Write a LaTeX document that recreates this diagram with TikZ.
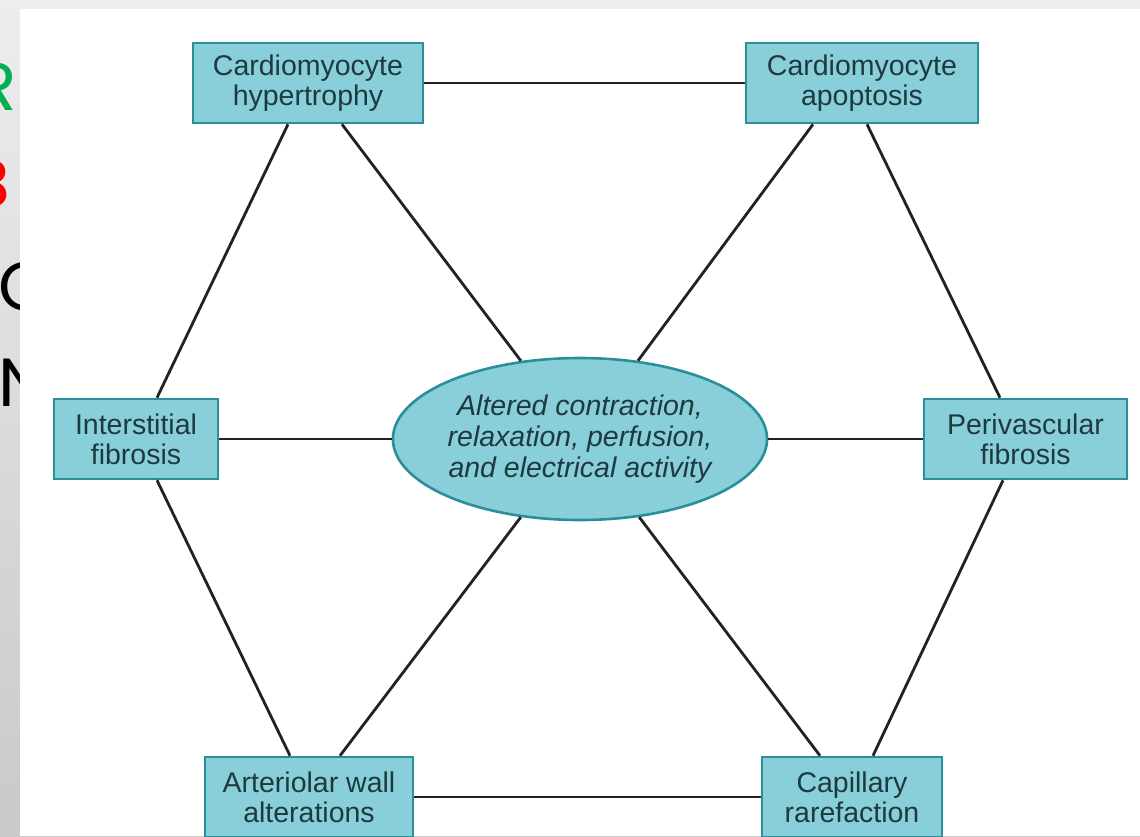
\documentclass[tikz,border=0pt]{standalone}
\usepackage{fontspec}
\setmainfont{Liberation Sans}
\newfontfamily\slidefont{Poppins}
\usetikzlibrary{shapes.geometric, calc}
\definecolor{boxteal}{HTML}{88CFDA}
\definecolor{boxtealdark}{HTML}{2B8E9B}
\definecolor{textdark}{HTML}{1E3A40}
\definecolor{linedark}{HTML}{222222}
\definecolor{slidegreen}{HTML}{00B050}
\definecolor{slidered}{HTML}{FF0000}
\definecolor{slidegraytop}{HTML}{EDEDED}
\definecolor{slidegraybot}{HTML}{C9C9C9}

\begin{document}
\begin{tikzpicture}[x=0.5pt, y=-0.5pt,
    % ── Node styles ──────────────────────────────────────────────────────
    base/.style={
        draw=boxtealdark, fill=boxteal, line width=1.3pt,
        text=textdark, align=center, inner sep=0pt,
        font=\fontsize{14.25}{15}\selectfont,
        minimum height=40pt
    },
    effect/.style={base, rectangle},
    core/.style={
        base, ellipse, minimum width=168pt, minimum height=81pt,
        font=\fontsize{14.25}{15.5}\selectfont\itshape
    },
    slideletter/.style={
        font=\fontsize{34}{34}\selectfont\slidefont, inner sep=0pt
    },
    % ── Connector style ──────────────────────────────────────────────────
    link/.style={draw=linedark, line width=1.4pt}
]
\useasboundingbox (0,0) rectangle (1140,836);

% ═══════════════════════════════════════════════════════════════════════════
% Slide background and cut-off title letters
% ═══════════════════════════════════════════════════════════════════════════
\shade[top color=slidegraytop, bottom color=slidegraybot] (0,0) rectangle (1140,836);
\node[slideletter, text=slidegreen, anchor=base east] (letR) at (17,110) {R};
\node[slideletter, text=slidered, anchor=base east] (letB) at (11,207) {B};
\node[slideletter, anchor=base west] (letC) at (-2,310) {C};
\node[slideletter, anchor=base west] (letN) at (-2,406) {N};
\fill[white] (20,9) rectangle (1140,836);

% ═══════════════════════════════════════════════════════════════════════════
% Centre and the six surrounding changes
% ═══════════════════════════════════════════════════════════════════════════
\node[core] (altered) at (580,439)
    {Altered contraction,\\relaxation, perfusion,\\and electrical activity};

\node[effect, minimum width=115pt] (hypertrophy) at (308,83)
    {Cardiomyocyte\\hypertrophy};
\node[effect, minimum width=116pt] (apoptosis) at (862,83)
    {Cardiomyocyte\\apoptosis};
\node[effect, minimum width=82pt] (intfibrosis) at (136,439)
    {Interstitial\\fibrosis};
\node[effect, minimum width=101.5pt] (perifibrosis) at (1025.5,439)
    {Perivascular\\fibrosis};
\node[effect, minimum width=104pt] (arteriolar) at (309,797)
    {Arteriolar wall\\alterations};
\node[effect, minimum width=90pt] (capillary) at (852,797)
    {Capillary\\rarefaction};

% ═══════════════════════════════════════════════════════════════════════════
% Hexagon ring
% ═══════════════════════════════════════════════════════════════════════════
\draw[link] (hypertrophy) -- (apoptosis);
\draw[link] ([shift={(-20,0)}]hypertrophy.south) -- ([shift={(21,0)}]intfibrosis.north);
\draw[link] ([shift={(5,0)}]apoptosis.south) -- ([shift={(-25.5,0)}]perifibrosis.north);
\draw[link] ([shift={(21,0)}]intfibrosis.south) -- ([shift={(-19,0)}]arteriolar.north);
\draw[link] ([shift={(-22.5,0)}]perifibrosis.south) -- ([shift={(21,0)}]capillary.north);
\draw[link] (arteriolar) -- (capillary);

% ═══════════════════════════════════════════════════════════════════════════
% Spokes to the centre
% ═══════════════════════════════════════════════════════════════════════════
\draw[link] ([shift={(34,0)}]hypertrophy.south) -- (altered);
\draw[link] ([shift={(-49,0)}]apoptosis.south) -- (altered);
\draw[link] (intfibrosis) -- (altered);
\draw[link] (altered) -- (perifibrosis);
\draw[link] (altered) -- ([shift={(31,0)}]arteriolar.north);
\draw[link] (altered) -- ([shift={(-32,0)}]capillary.north);

\end{tikzpicture}
\end{document}
